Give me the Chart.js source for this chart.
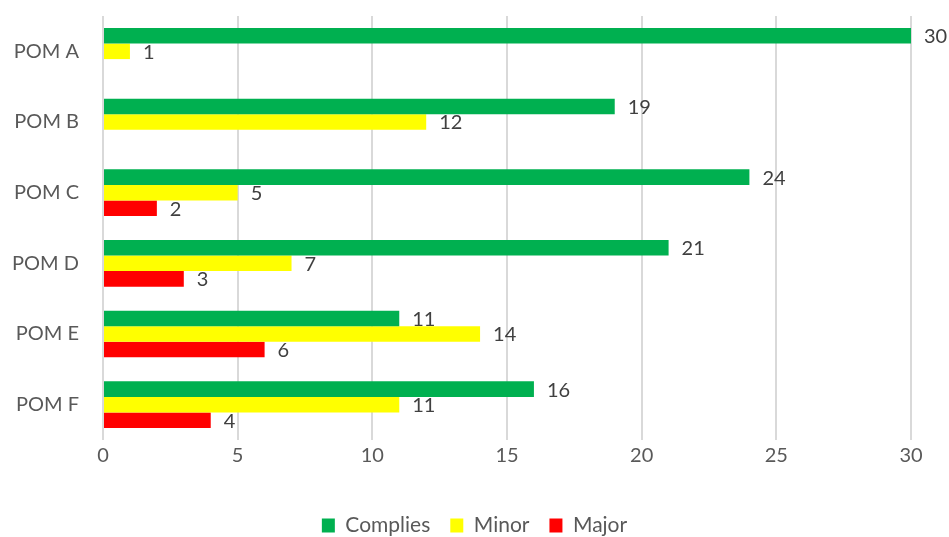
<!DOCTYPE html>
<html>
<head>
<meta charset="utf-8">
<script src="https://cdn.jsdelivr.net/npm/chart.js@4/dist/chart.umd.min.js"></script>
<style>
  html, body { margin: 0; padding: 0; background: #fff; }
  #wrap { width: 949px; height: 537px; }
</style>
</head>
<body>
<div id="wrap"><canvas id="myChart"></canvas></div>
<script>
const categories = ['POM A', 'POM B', 'POM C', 'POM D', 'POM E', 'POM F'];
const complies = [30, 19, 24, 21, 11, 16];
const minor = [1, 12, 5, 7, 14, 11];
const major = [null, null, 2, 3, 6, 4];
const xTicks = [0, 5, 10, 15, 20, 25, 30];

const fontFamily = 'Lato, "Open Sans", sans-serif';

// value labels at the end of each bar
const barLabels = {
  id: 'barLabels',
  afterDatasetsDraw(chart) {
    const ctx = chart.ctx;
    ctx.save();
    ctx.font = '20px ' + fontFamily;
    ctx.fillStyle = '#404040';
    ctx.textAlign = 'left';
    ctx.textBaseline = 'middle';
    chart.data.datasets.forEach((ds, i) => {
      chart.getDatasetMeta(i).data.forEach((bar, j) => {
        const v = ds.data[j];
        if (v === null || v === undefined) return;
        ctx.fillText(String(v), bar.x + 13, bar.y + 1);
      });
    });
    ctx.restore();
  }
};

// centre the legend on the whole canvas, not on the padded area
const legendShift = {
  id: 'legendShift',
  afterLayout(chart) {
    const lg = chart.legend;
    if (!lg) return;
    const dx = (chart.width - (lg.left + lg.right)) / 2;
    lg.left += dx;
    lg.right += dx;
    if (lg.legendHitBoxes) lg.legendHitBoxes.forEach(h => { h.left += dx; });
  }
};

const data = {
  labels: categories,
  datasets: [
    { label: 'Complies', backgroundColor: '#00B050', data: complies },
    { label: 'Minor', backgroundColor: '#FFFF00', data: minor },
    { label: 'Major', backgroundColor: '#FF0000', data: major }
  ]
};

const config = {
  type: 'bar',
  data: data,
  options: {
    indexAxis: 'y',
    responsive: true,
    maintainAspectRatio: false,
    animation: false,
    datasets: { bar: { barPercentage: 1, categoryPercentage: 0.66 } },
    layout: { padding: { top: 16, right: 38, left: 0, bottom: -9 } },
    scales: {
      x: {
        min: 0,
        max: 30,
        afterBuildTicks(scale) { scale.ticks = xTicks.map(v => ({ value: v })); },
        afterFit(scale) { scale.height = 55; },
        grid: { color: '#d9d9d9', lineWidth: 2, drawTicks: false },
        border: { display: false },
        ticks: { color: '#595959', font: { family: fontFamily, size: 20 }, padding: 4 }
      },
      y: {
        afterFit(scale) {
          scale.width = 103;
          scale.paddingTop = 0;
          scale.paddingBottom = 0;
        },
        grid: { display: false },
        border: { display: false },
        ticks: { color: '#595959', font: { family: fontFamily, size: 20 }, padding: 16 }
      }
    },
    plugins: {
      legend: {
        position: 'bottom',
        labels: {
          color: '#595959',
          font: { family: fontFamily, size: 21 },
          boxWidth: 13,
          boxHeight: 14,
          padding: 20
        }
      },
      tooltip: { enabled: false }
    }
  },
  plugins: [barLabels, legendShift]
};

var myChart = new Chart(document.getElementById('myChart'), config);
</script>
</body>
</html>
